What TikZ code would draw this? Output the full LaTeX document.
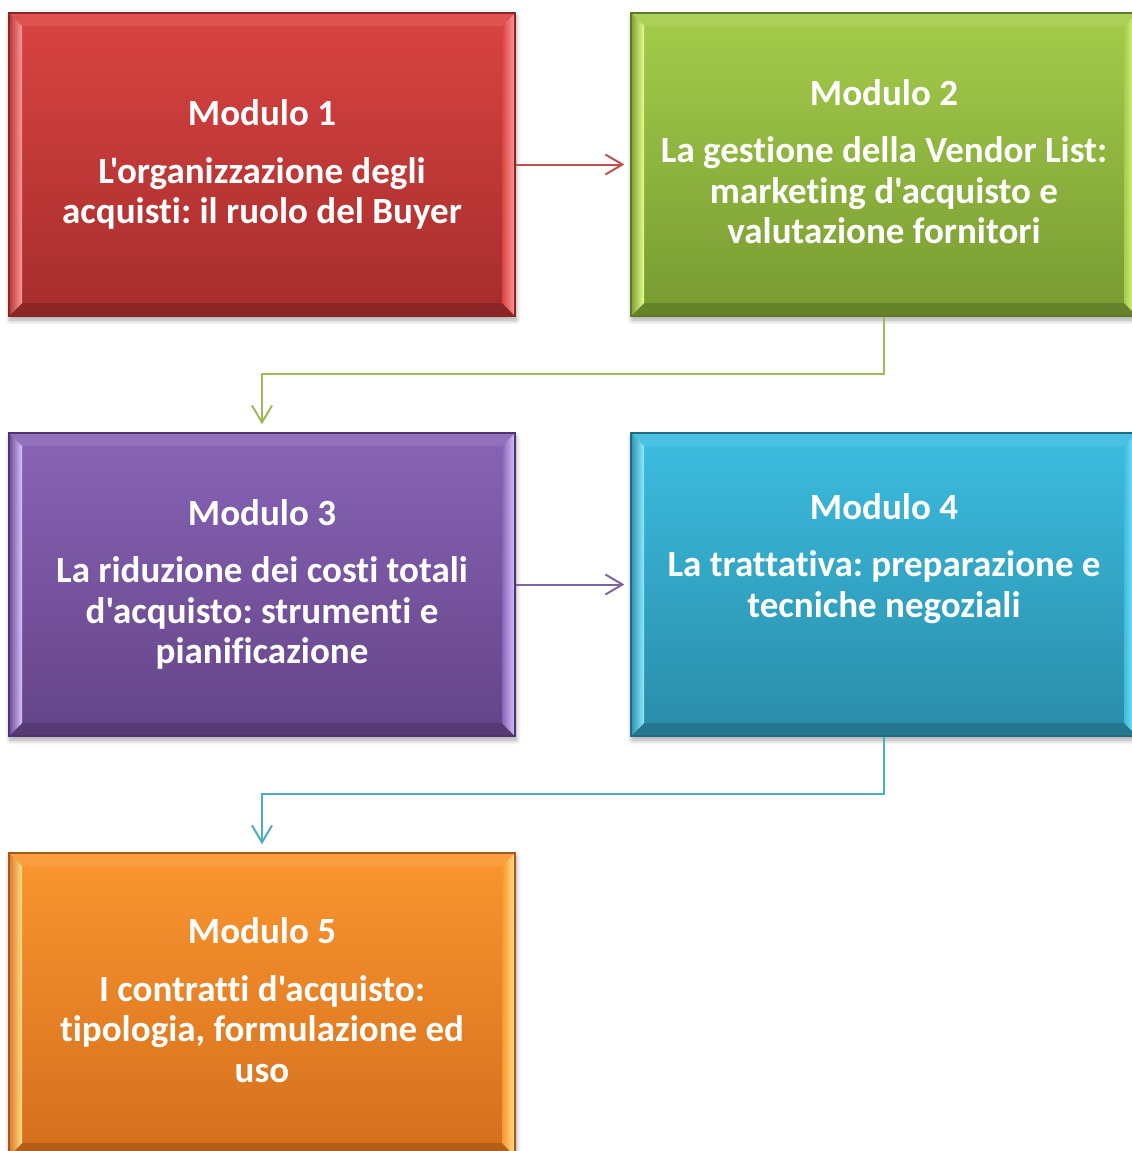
\documentclass[tikz,border=0pt]{standalone}
\usepackage{fontspec}
\newfontfamily\modfont{Carlito}[Ligatures=NoCommon]
\usetikzlibrary{arrows.meta,shadows.blur}
\definecolor{m1top}{HTML}{D94441}\definecolor{m1bot}{HTML}{A52D2D}
\definecolor{m1hi}{HTML}{FF9A9A}\definecolor{m1side}{HTML}{B83636}
\definecolor{m1dark}{HTML}{8B2525}\definecolor{m1line}{HTML}{C0504D}
\definecolor{m2top}{HTML}{A5CC4B}\definecolor{m2bot}{HTML}{789A32}
\definecolor{m2hi}{HTML}{E6FF8F}\definecolor{m2side}{HTML}{7E9F35}
\definecolor{m2dark}{HTML}{5E7A24}\definecolor{m2line}{HTML}{9BBB59}
\definecolor{m3top}{HTML}{8864B6}\definecolor{m3bot}{HTML}{644487}
\definecolor{m3hi}{HTML}{D9C2FF}\definecolor{m3side}{HTML}{6B4E93}
\definecolor{m3dark}{HTML}{4E3570}\definecolor{m3line}{HTML}{8064A2}
\definecolor{m4top}{HTML}{3CBDE0}\definecolor{m4bot}{HTML}{2A8CA8}
\definecolor{m4hi}{HTML}{8EEBFF}\definecolor{m4side}{HTML}{2E93B0}
\definecolor{m4dark}{HTML}{1F6C82}\definecolor{m4line}{HTML}{4BACC6}
\definecolor{m5top}{HTML}{FA962F}\definecolor{m5bot}{HTML}{D46E1E}
\definecolor{m5hi}{HTML}{FFE08A}\definecolor{m5side}{HTML}{D97A22}
\definecolor{m5dark}{HTML}{A8561A}
\tikzset{
  modbox/.style={rectangle, draw=#1dark, line width=1.2pt,
    minimum width=506pt, minimum height=303pt,
    top color=#1top, bottom color=#1bot, text=white, align=center,
    font=\modfont\bfseries\fontsize{37}{40.5}\selectfont\frenchspacing,
    blur shadow={shadow xshift=1pt, shadow yshift=-4pt,
      shadow blur radius=5pt, shadow blur steps=8, shadow opacity=35},
    path picture={
      \coordinate (A) at (path picture bounding box.south west);
      \coordinate (B) at (path picture bounding box.north west);
      \coordinate (C) at (path picture bounding box.north east);
      \coordinate (D) at (path picture bounding box.south east);
      % bevel
      \fill[#1top!92!white] (B) -- (C) -- ([shift={(-13pt,-13pt)}]C)
        -- ([shift={(13pt,-13pt)}]B) -- cycle;
      \fill[#1bot!85!black] (A) -- (D) -- ([shift={(-13pt,13pt)}]D)
        -- ([shift={(13pt,13pt)}]A) -- cycle;
      \shade[left color=#1side, right color=#1hi] (A) -- (B)
        -- ([shift={(13pt,-13pt)}]B) -- ([shift={(13pt,13pt)}]A) -- cycle;
      \shade[left color=#1top, right color=#1hi] (D) -- (C)
        -- ([shift={(-13pt,-13pt)}]C) -- ([shift={(-13pt,13pt)}]D) -- cycle;
    }},
  link/.style={draw=#1, line width=2pt,
    -{Straight Barb[length=17pt,width=20pt,line width=2pt]}}
}
\begin{document}
\begin{tikzpicture}[x=1pt,y=-1pt]
\useasboundingbox (0,0) rectangle (1132,1151);
% boxes
\node[modbox=m1] (m1) at (262,164.5)
  {Modulo 1\\[17pt]L'organizzazione degli\\acquisti: il ruolo del Buyer};
\node[modbox=m2] (m2) at (884,164.5)
  {Modulo 2\\[17pt]La gestione della Vendor List:\\marketing d'acquisto e\\valutazione fornitori\\[-35pt]\mbox{}};
\node[modbox=m3] (m3) at (262,584.5)
  {Modulo 3\\[17pt]La riduzione dei costi totali\\d'acquisto: strumenti e\\pianificazione};
\node[modbox=m4] (m4) at (884,584.5)
  {Modulo 4\\[17pt]La trattativa: preparazione e\\tecniche negoziali\\[18pt]\mbox{}};
\node[modbox=m5] (m5) at (262,1004.5)
  {Modulo 5\\[17pt]I contratti d'acquisto:\\tipologia, formulazione ed\\uso\\[-32pt]\mbox{}};
% links
\draw[link=m1line, shorten >=6pt] (m1.east) -- (m2.west);
\draw[link=m2line, shorten >=8pt] (m2.south) -- ++(0,57) -| (m3.north);
\draw[link=m3line, shorten >=6pt] (m3.east) -- (m4.west);
\draw[link=m4line, shorten >=8pt] (m4.south) -- ++(0,57) -| (m5.north);
\end{tikzpicture}
\end{document}
